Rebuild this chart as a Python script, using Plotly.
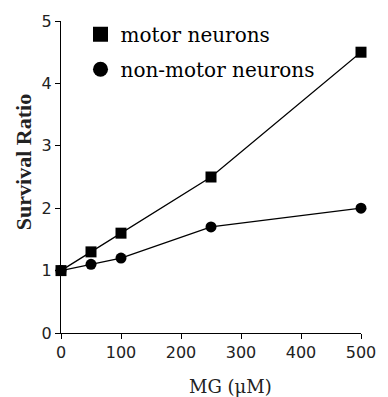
import plotly.graph_objects as go

mg = [0, 50, 100, 250, 500]
motor = [1.0, 1.3, 1.6, 2.5, 4.5]
non_motor = [1.0, 1.1, 1.2, 1.7, 2.0]
x_ticks = [0, 100, 200, 300, 400, 500]
y_ticks = [0, 1, 2, 3, 4, 5]
series_names = ["motor neurons", "non-motor neurons"]
symbols = ["square", "circle"]

fig = go.Figure()
for ys, nm, sym in zip([motor, non_motor], series_names, symbols):
    fig.add_trace(go.Scatter(x=mg, y=ys, mode="lines+markers", name=nm, showlegend=False,
                             line=dict(color="black", width=1.3),
                             marker=dict(symbol=sym, size=11, color="black"),
                             cliponaxis=False))
for i, (nm, sym) in enumerate(zip(series_names, symbols)):
    fig.add_trace(go.Scatter(x=[None], y=[None], mode="markers", name=nm, legendgroup=f"g{i}",
                             marker=dict(symbol=sym, size=15, color="black")))

axis_common = dict(showgrid=False, zeroline=False, showline=True, linecolor="black",
                   linewidth=1.2, ticks="outside", ticklen=5, tickwidth=1.2, tickcolor="black",
                   tickfont=dict(family="DejaVu Sans", size=16, color="#222"))
fig.update_xaxes(range=[0, 500], tickvals=x_ticks, **axis_common)
fig.update_yaxes(range=[0, 5], tickvals=y_ticks, **axis_common)

fig.update_layout(
    width=388, height=397,
    margin=dict(l=61, r=16, t=20, b=64),
    plot_bgcolor="white", paper_bgcolor="white",
    legend=dict(x=0.065, y=1.02, xanchor="left", yanchor="top",
                font=dict(family="DejaVu Serif", size=20, color="black"),
                bgcolor="rgba(0,0,0,0)", itemwidth=30, tracegroupgap=6),
    annotations=[
        dict(text="MG (μM)", xref="paper", yref="paper", x=0.565, y=-0.13,
             xanchor="center", yanchor="top", showarrow=False,
             font=dict(family="DejaVu Serif", size=18, color="#222")),
        dict(text="<b>Survival Ratio</b>", xref="paper", yref="paper", x=-0.125, y=0.546,
             xanchor="center", yanchor="middle", textangle=-90, showarrow=False,
             font=dict(family="Liberation Serif", size=22, color="#222")),
    ],
)

fig.write_html("out.html")
